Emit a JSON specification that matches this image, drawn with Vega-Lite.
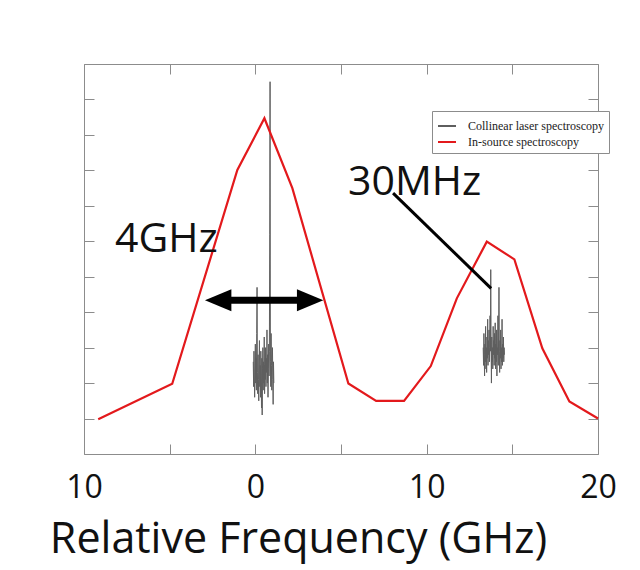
{
  "$schema": "https://vega.github.io/schema/vega-lite/v6.json",
  "width": 514,
  "height": 390,
  "autosize": {"type": "none"},
  "padding": {"left": 84, "top": 64, "right": 42, "bottom": 116},
  "background": "white",
  "config": {"view": {"stroke": "#8c8c8c", "strokeWidth": 1}},
  "datasets": {
    "insource": [
      {"f": -9.17, "v": 0.98, "series": "In-source spectroscopy"},
      {"f": -4.85, "v": 1.98, "series": "In-source spectroscopy"},
      {"f": -1.05, "v": 8.01, "series": "In-source spectroscopy"},
      {"f": 0.53, "v": 9.47, "series": "In-source spectroscopy"},
      {"f": 2.16, "v": 7.5, "series": "In-source spectroscopy"},
      {"f": 5.43, "v": 1.99, "series": "In-source spectroscopy"},
      {"f": 7.05, "v": 1.5, "series": "In-source spectroscopy"},
      {"f": 8.68, "v": 1.5, "series": "In-source spectroscopy"},
      {"f": 10.24, "v": 2.48, "series": "In-source spectroscopy"},
      {"f": 11.76, "v": 4.39, "series": "In-source spectroscopy"},
      {"f": 13.51, "v": 5.99, "series": "In-source spectroscopy"},
      {"f": 15.12, "v": 5.49, "series": "In-source spectroscopy"},
      {"f": 16.75, "v": 2.98, "series": "In-source spectroscopy"},
      {"f": 18.33, "v": 1.48, "series": "In-source spectroscopy"},
      {"f": 20.0, "v": 1.0, "series": "In-source spectroscopy"}
    ],
    "collinear": [
      {"f": -0.12, "v": 2.6, "seg": "L"}, {"f": -0.10, "v": 1.9, "seg": "L"}, {"f": -0.08, "v": 2.9, "seg": "L"},
      {"f": -0.06, "v": 2.2, "seg": "L"}, {"f": -0.04, "v": 1.6, "seg": "L"}, {"f": -0.02, "v": 2.4, "seg": "L"},
      {"f": 0.00, "v": 3.1, "seg": "L"}, {"f": 0.02, "v": 2.0, "seg": "L"}, {"f": 0.04, "v": 2.7, "seg": "L"},
      {"f": 0.06, "v": 1.8, "seg": "L"}, {"f": 0.08, "v": 3.4, "seg": "L"}, {"f": 0.10, "v": 4.7, "seg": "L"},
      {"f": 0.12, "v": 2.3, "seg": "L"}, {"f": 0.14, "v": 1.7, "seg": "L"}, {"f": 0.16, "v": 2.8, "seg": "L"},
      {"f": 0.18, "v": 2.1, "seg": "L"}, {"f": 0.20, "v": 1.5, "seg": "L"}, {"f": 0.22, "v": 2.6, "seg": "L"},
      {"f": 0.24, "v": 3.2, "seg": "L"}, {"f": 0.26, "v": 1.9, "seg": "L"}, {"f": 0.28, "v": 2.5, "seg": "L"},
      {"f": 0.30, "v": 1.6, "seg": "L"}, {"f": 0.32, "v": 2.9, "seg": "L"}, {"f": 0.34, "v": 2.2, "seg": "L"},
      {"f": 0.36, "v": 1.3, "seg": "L"}, {"f": 0.38, "v": 2.7, "seg": "L"}, {"f": 0.40, "v": 1.1, "seg": "L"},
      {"f": 0.42, "v": 2.4, "seg": "L"}, {"f": 0.44, "v": 3.0, "seg": "L"}, {"f": 0.46, "v": 1.8, "seg": "L"},
      {"f": 0.48, "v": 2.6, "seg": "L"}, {"f": 0.50, "v": 2.0, "seg": "L"}, {"f": 0.52, "v": 3.3, "seg": "L"},
      {"f": 0.54, "v": 1.7, "seg": "L"}, {"f": 0.56, "v": 2.5, "seg": "L"}, {"f": 0.58, "v": 2.1, "seg": "L"},
      {"f": 0.60, "v": 3.0, "seg": "L"}, {"f": 0.62, "v": 1.9, "seg": "L"}, {"f": 0.64, "v": 2.7, "seg": "L"},
      {"f": 0.66, "v": 2.3, "seg": "L"}, {"f": 0.68, "v": 3.5, "seg": "L"}, {"f": 0.70, "v": 2.0, "seg": "L"},
      {"f": 0.72, "v": 2.8, "seg": "L"}, {"f": 0.74, "v": 1.6, "seg": "L"}, {"f": 0.76, "v": 2.4, "seg": "L"},
      {"f": 0.78, "v": 3.1, "seg": "L"}, {"f": 0.80, "v": 2.2, "seg": "L"}, {"f": 0.82, "v": 2.9, "seg": "L"},
      {"f": 0.84, "v": 6.2, "seg": "L"}, {"f": 0.86, "v": 10.5, "seg": "L"}, {"f": 0.88, "v": 2.6, "seg": "L"},
      {"f": 0.90, "v": 1.9, "seg": "L"}, {"f": 0.92, "v": 3.4, "seg": "L"}, {"f": 0.94, "v": 2.5, "seg": "L"},
      {"f": 0.96, "v": 1.8, "seg": "L"}, {"f": 0.98, "v": 2.7, "seg": "L"}, {"f": 1.00, "v": 3.0, "seg": "L"},
      {"f": 1.02, "v": 2.1, "seg": "L"}, {"f": 1.04, "v": 1.4, "seg": "L"}, {"f": 1.06, "v": 2.6, "seg": "L"},
      {"f": 1.08, "v": 2.0, "seg": "L"},
      {"f": 13.30, "v": 3.0, "seg": "R"}, {"f": 13.32, "v": 2.5, "seg": "R"}, {"f": 13.34, "v": 3.4, "seg": "R"},
      {"f": 13.36, "v": 2.8, "seg": "R"}, {"f": 13.38, "v": 2.2, "seg": "R"}, {"f": 13.40, "v": 3.1, "seg": "R"},
      {"f": 13.42, "v": 2.6, "seg": "R"}, {"f": 13.44, "v": 3.6, "seg": "R"}, {"f": 13.46, "v": 2.4, "seg": "R"},
      {"f": 13.48, "v": 3.0, "seg": "R"}, {"f": 13.50, "v": 2.3, "seg": "R"}, {"f": 13.52, "v": 3.3, "seg": "R"},
      {"f": 13.54, "v": 2.7, "seg": "R"}, {"f": 13.56, "v": 3.8, "seg": "R"}, {"f": 13.58, "v": 2.5, "seg": "R"},
      {"f": 13.60, "v": 3.2, "seg": "R"}, {"f": 13.62, "v": 2.8, "seg": "R"}, {"f": 13.64, "v": 3.5, "seg": "R"},
      {"f": 13.66, "v": 2.6, "seg": "R"}, {"f": 13.68, "v": 3.0, "seg": "R"}, {"f": 13.70, "v": 3.9, "seg": "R"},
      {"f": 13.72, "v": 2.9, "seg": "R"}, {"f": 13.74, "v": 5.2, "seg": "R"}, {"f": 13.76, "v": 3.1, "seg": "R"},
      {"f": 13.78, "v": 2.0, "seg": "R"}, {"f": 13.80, "v": 3.3, "seg": "R"}, {"f": 13.82, "v": 2.6, "seg": "R"},
      {"f": 13.84, "v": 3.0, "seg": "R"}, {"f": 13.86, "v": 2.4, "seg": "R"}, {"f": 13.88, "v": 3.6, "seg": "R"},
      {"f": 13.90, "v": 2.8, "seg": "R"}, {"f": 13.92, "v": 3.2, "seg": "R"}, {"f": 13.94, "v": 2.5, "seg": "R"},
      {"f": 13.96, "v": 3.4, "seg": "R"}, {"f": 13.98, "v": 2.7, "seg": "R"}, {"f": 14.00, "v": 3.7, "seg": "R"},
      {"f": 14.02, "v": 2.4, "seg": "R"}, {"f": 14.04, "v": 3.1, "seg": "R"}, {"f": 14.06, "v": 2.6, "seg": "R"},
      {"f": 14.08, "v": 3.5, "seg": "R"}, {"f": 14.10, "v": 2.2, "seg": "R"}, {"f": 14.12, "v": 3.0, "seg": "R"},
      {"f": 14.14, "v": 2.8, "seg": "R"}, {"f": 14.16, "v": 3.9, "seg": "R"}, {"f": 14.18, "v": 2.5, "seg": "R"},
      {"f": 14.20, "v": 3.3, "seg": "R"}, {"f": 14.22, "v": 4.7, "seg": "R"}, {"f": 14.24, "v": 2.9, "seg": "R"},
      {"f": 14.26, "v": 2.3, "seg": "R"}, {"f": 14.28, "v": 3.2, "seg": "R"}, {"f": 14.30, "v": 2.7, "seg": "R"},
      {"f": 14.32, "v": 3.5, "seg": "R"}, {"f": 14.34, "v": 2.4, "seg": "R"}, {"f": 14.36, "v": 3.0, "seg": "R"},
      {"f": 14.38, "v": 2.6, "seg": "R"}, {"f": 14.40, "v": 3.8, "seg": "R"}, {"f": 14.42, "v": 2.5, "seg": "R"},
      {"f": 14.44, "v": 3.1, "seg": "R"}, {"f": 14.46, "v": 2.7, "seg": "R"}, {"f": 14.48, "v": 3.3, "seg": "R"},
      {"f": 14.50, "v": 2.6, "seg": "R"}, {"f": 14.52, "v": 3.0, "seg": "R"}, {"f": 14.54, "v": 2.8, "seg": "R"}
    ],
    "labels": [
      {"f": -8.19, "v": 5.71, "text": "4GHz"},
      {"f": 5.41, "v": 7.31, "text": "30MHz"}
    ],
    "pointer": [
      {"f": 8.04, "v": 7.36, "f2": 13.76, "v2": 4.67}
    ],
    "shaft": [
      {"f": -1.8, "f2": 2.85, "v": 4.34}
    ],
    "headL": [{"f": -2.94, "v": 4.34}],
    "headR": [{"f": 3.97, "v": 4.34}]
  },
  "layer": [
    {
      "data": {"name": "collinear"},
      "transform": [{"calculate": "'Collinear laser spectroscopy'", "as": "series"}],
      "mark": {"type": "line", "strokeWidth": 1, "interpolate": "linear"},
      "encoding": {
        "x": {
          "field": "f", "type": "quantitative",
          "scale": {"domain": [-10, 20], "nice": false, "zero": false},
          "axis": {
            "orient": "bottom", "domain": false, "grid": false,
            "values": [-10, -5, 0, 5, 10, 15, 20],
            "tickSize": -10, "tickColor": "#8c8c8c", "tickWidth": 1,
            "labelExpr": "datum.value % 10 === 0 ? format(abs(datum.value), 'd') : ''",
            "labelFont": "Open Sans", "labelFontSize": 32, "labelColor": "#111",
            "labelPadding": 28, "labelFlush": false, "labelOverlap": false,
            "title": "Relative Frequency (GHz)",
            "titleFont": "Open Sans", "titleFontSize": 43, "titleFontWeight": "normal", "titleColor": "#111",
            "titleX": 214, "titleY": 98, "titleAlign": "center", "titleBaseline": "alphabetic"
          }
        },
        "y": {
          "field": "v", "type": "quantitative",
          "scale": {"domain": [0, 11], "nice": false, "zero": false},
          "axis": {
            "orient": "left", "domain": false, "grid": false,
            "values": [0, 1, 2, 3, 4, 5, 6, 7, 8, 9, 10, 11],
            "tickSize": -10, "tickColor": "#8c8c8c", "labels": false, "title": null
          }
        },
        "color": {
          "field": "series", "type": "nominal",
          "scale": {"domain": ["Collinear laser spectroscopy", "In-source spectroscopy"], "range": ["#5e5e5e", "#e3191c"]},
          "legend": {
            "orient": "none", "legendX": 348, "legendY": 47, "title": null,
            "symbolType": "stroke", "symbolSize": 324, "symbolStrokeWidth": 2,
            "labelFont": "Liberation Serif", "labelFontSize": 12, "labelColor": "#222",
            "labelOffset": 11, "strokeColor": "#8c8c8c", "fillColor": "white",
            "padding": 5, "rowPadding": 0
          }
        },
        "detail": {"field": "seg", "type": "nominal"}
      }
    },
    {
      "data": {"name": "insource"},
      "mark": {"type": "line", "strokeWidth": 2.2},
      "encoding": {
        "x": {
          "field": "f", "type": "quantitative",
          "axis": {
            "orient": "top", "domain": false, "grid": false,
            "values": [-10, -5, 0, 5, 10, 15, 20],
            "tickSize": -10, "tickColor": "#8c8c8c", "labels": false, "title": null
          }
        },
        "y": {
          "field": "v", "type": "quantitative",
          "axis": {
            "orient": "right", "domain": false, "grid": false,
            "values": [0, 1, 2, 3, 4, 5, 6, 7, 8, 9, 10, 11],
            "tickSize": -10, "tickColor": "#8c8c8c", "labels": false, "title": null
          }
        },
        "color": {"field": "series", "type": "nominal"}
      }
    },
    {
      "data": {"name": "pointer"},
      "mark": {"type": "rule", "color": "black", "strokeWidth": 3},
      "encoding": {
        "x": {"field": "f", "type": "quantitative", "axis": null},
        "y": {"field": "v", "type": "quantitative", "axis": null},
        "x2": {"field": "f2"},
        "y2": {"field": "v2"}
      }
    },
    {
      "data": {"name": "shaft"},
      "mark": {"type": "rule", "color": "black", "strokeWidth": 7},
      "encoding": {
        "x": {"field": "f", "type": "quantitative", "axis": null},
        "x2": {"field": "f2"},
        "y": {"field": "v", "type": "quantitative", "axis": null}
      }
    },
    {
      "data": {"name": "headL"},
      "mark": {"type": "point", "shape": "M0,0 L2.4,-1 L2.4,1 Z", "filled": true, "color": "black", "opacity": 1, "size": 484, "strokeWidth": 0},
      "encoding": {
        "x": {"field": "f", "type": "quantitative", "axis": null},
        "y": {"field": "v", "type": "quantitative", "axis": null}
      }
    },
    {
      "data": {"name": "headR"},
      "mark": {"type": "point", "shape": "M0,0 L-2.4,-1 L-2.4,1 Z", "filled": true, "color": "black", "opacity": 1, "size": 484, "strokeWidth": 0},
      "encoding": {
        "x": {"field": "f", "type": "quantitative", "axis": null},
        "y": {"field": "v", "type": "quantitative", "axis": null}
      }
    },
    {
      "data": {"name": "labels"},
      "mark": {"type": "text", "align": "left", "baseline": "alphabetic", "font": "Open Sans", "fontSize": 41, "color": "#111"},
      "encoding": {
        "x": {"field": "f", "type": "quantitative", "axis": null},
        "y": {"field": "v", "type": "quantitative", "axis": null},
        "text": {"field": "text"}
      }
    }
  ],
  "resolve": {"axis": {"x": "independent", "y": "independent"}}
}
